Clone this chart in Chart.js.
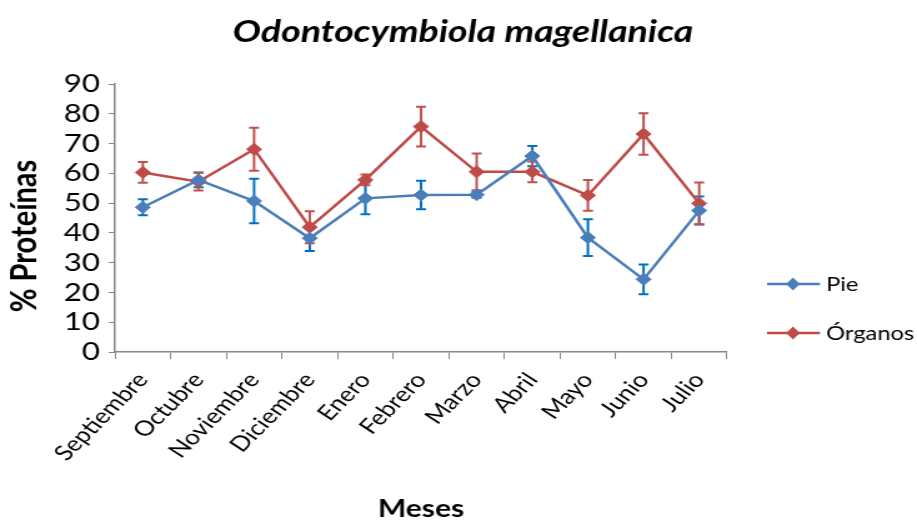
<!DOCTYPE html>
<html>
<head>
<meta charset="utf-8">
<script src="https://cdn.jsdelivr.net/npm/chart.js@4"></script>
<style>
html,body{margin:0;padding:0;background:#fff;overflow:hidden}
#wrap{width:917px;height:521px}
</style>
</head>
<body>
<div id="wrap"><canvas id="c" width="734" height="521" style="width:917px;height:521px"></canvas></div>
<script>
const TITLE="Odontocymbiola magellanica";
const Y_TITLE="% Proteínas";
const MESES=["Septiembre","Octubre","Noviembre","Diciembre","Enero","Febrero","Marzo","Abril","Mayo","Junio","Julio"];
const PIE=[48.6,57.8,50.7,38.2,51.6,52.7,52.8,65.8,38.4,24.4,47.5];
const PIE_ERR=[2.7,2.5,7.5,4.3,5.3,4.8,1,3.4,6.2,5,4.7];
const ORGANOS=[60.3,57.2,68.1,41.9,57.8,75.7,60.5,60.5,52.6,73.2,49.9];
const ORGANOS_ERR=[3.5,3,7.2,5.4,1.8,6.7,6.2,3.5,5.2,7,7];
const FONT="Lato";

/* the picture is wider than it is drawn: the canvas is stretched by css */
const SX=917/734;

/* ===== PLUGINS ===== */
const errorBars={
  id:"errorBars",
  beforeDatasetsDraw(ch){
    const ctx=ch.ctx,y=ch.scales.y;
    ch.data.datasets.forEach((ds,i)=>{
      const meta=ch.getDatasetMeta(i);
      ctx.save();
      ctx.strokeStyle=ds.errColor;
      ctx.lineWidth=2;
      meta.data.forEach((pt,j)=>{
        const v=ds.data[j],e=ds.err[j];
        const t=y.getPixelForValue(v+e),b=y.getPixelForValue(v-e);
        ctx.beginPath();
        ctx.moveTo(pt.x,t);ctx.lineTo(pt.x,b);
        ctx.moveTo(pt.x-4,t);ctx.lineTo(pt.x+4,t);
        ctx.moveTo(pt.x-4,b);ctx.lineTo(pt.x+4,b);
        ctx.stroke();
      });
      ctx.restore();
    });
  }
};

const extras={
  id:"extras",
  afterDraw(ch){
    const ctx=ch.ctx;
    ctx.save();
    ctx.fillStyle="#000";
    ctx.font="italic bold 30px "+FONT;
    ctx.textAlign="center";ctx.textBaseline="middle";
    ctx.fillText(TITLE,463/SX,32);
    // y axis title
    ctx.save();
    ctx.translate(25/SX,236);
    ctx.rotate(-Math.PI/2);
    ctx.font="bold 29px "+FONT;
    ctx.fillText(Y_TITLE,0,0);
    ctx.restore();
    // legend
    ctx.font="19px "+FONT;
    ctx.textAlign="left";
    ch.data.datasets.forEach((ds,i)=>{
      const yy=284+i*49;
      const x0=767/SX,x1=820/SX,xm=793/SX;
      ctx.strokeStyle=ds.borderColor;ctx.lineWidth=2.5;
      ctx.beginPath();ctx.moveTo(x0,yy);ctx.lineTo(x1,yy);ctx.stroke();
      ctx.fillStyle=ds.borderColor;
      ctx.beginPath();
      ctx.moveTo(xm,yy-6.5);ctx.lineTo(xm+5.5,yy);ctx.lineTo(xm,yy+6.5);ctx.lineTo(xm-5.5,yy);
      ctx.closePath();ctx.fill();
      ctx.fillStyle="#000";
      ctx.fillText(ds.label,826/SX,yy+1);
    });
    ctx.restore();
  }
};

/* ===== CHART ===== */
const cv=document.getElementById("c");
new Chart(cv,{
  type:"line",
  data:{
    labels:MESES,
    datasets:[
      {label:"Pie",data:PIE,err:PIE_ERR,borderColor:"#4a7ebb",backgroundColor:"#4a7ebb",errColor:"#0070c0",
       borderWidth:2.5,pointStyle:"rectRot",pointRadius:6,pointHoverRadius:6,pointBorderWidth:1,tension:0},
      {label:"Órganos",data:ORGANOS,err:ORGANOS_ERR,borderColor:"#be4b48",backgroundColor:"#be4b48",errColor:"#c0504d",
       borderWidth:2.5,pointStyle:"rectRot",pointRadius:6,pointHoverRadius:6,pointBorderWidth:1,tension:0}
    ]
  },
  options:{
    responsive:false,
    animation:false,
    layout:{padding:{top:84,right:734-727/SX,left:0,bottom:0}},
    plugins:{legend:{display:false},title:{display:false},tooltip:{enabled:false}},
    scales:{
      x:{
        offset:true,
        grid:{display:true,drawOnChartArea:false,offset:true,tickLength:7,color:"#868686"},
        border:{color:"#868686",width:1.5},
        ticks:{color:"#000",font:{family:FONT,size:21},minRotation:51,maxRotation:51,padding:9,autoSkip:false},
        title:{display:true,text:"Meses",color:"#000",font:{family:FONT,size:24,weight:"bold",lineHeight:1},padding:{top:0,bottom:0}},
        afterFit(s){s.height=169;}
      },
      y:{
        min:0,max:90,
        grid:{display:true,drawOnChartArea:false,tickLength:5,color:"#868686"},
        border:{color:"#868686",width:1.5},
        ticks:{stepSize:10,color:"#000",font:{family:FONT,size:25,lineHeight:1},padding:7,autoSkip:false},
        title:{display:false},
        afterFit(s){s.width=115/SX;}
      }
    }
  },
  plugins:[errorBars,extras]
});
cv.style.width="917px";cv.style.height="521px";
</script>
</body>
</html>
